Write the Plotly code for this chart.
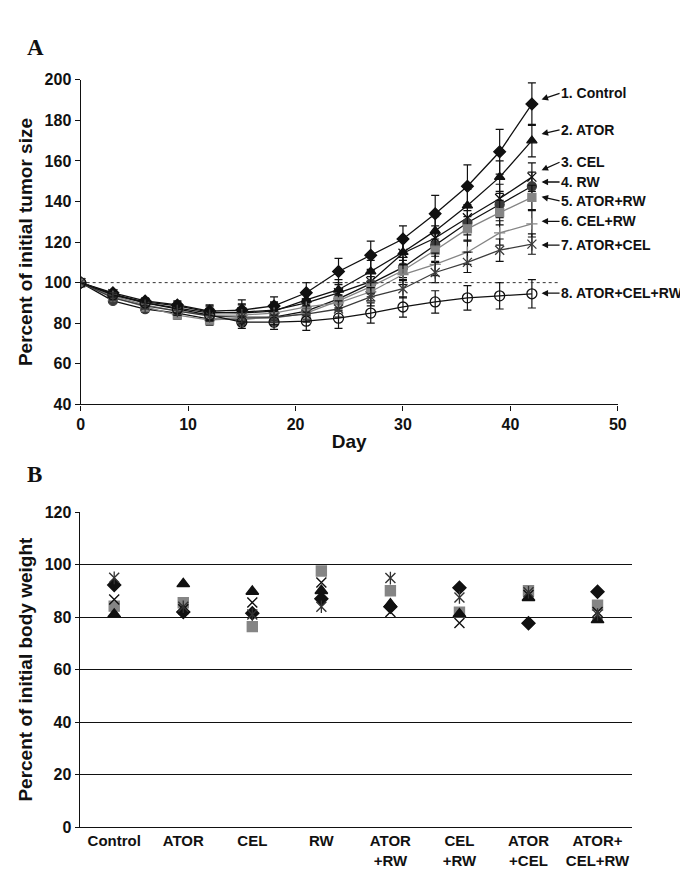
import plotly.graph_objects as go

# ---------------- Panel A data ----------------
days = [0, 3, 6, 9, 12, 15, 18, 21, 24, 27, 30, 33, 36, 39, 42]

control = [100, 95, 91, 89, 86, 86.5, 88.5, 95, 105.5, 113.5, 121.5, 134, 147.5, 164.5, 188]
ator = [100, 94, 90.5, 88.5, 85.5, 85, 86, 91.5, 96.5, 105.5, 115, 125.5, 138, 152, 170]
cel = [100, 94.5, 90, 87.5, 85, 85.5, 86.5, 90, 95, 100.5, 114.5, 122, 132, 141.5, 152]
rw = [100, 91, 87, 85, 82, 82, 83, 86, 92, 99.5, 107.5, 118.5, 129.5, 138.5, 147.5]
ator_rw = [100, 93, 88, 84, 81.5, 82.5, 82.5, 85, 91, 98, 106, 116, 126.5, 134.5, 142]
cel_rw = [100, 93.5, 89, 86, 84, 84, 85, 88, 90, 95.5, 104, 109, 115, 124.5, 129]
ator_cel = [100, 92.5, 88.5, 86, 83.5, 83, 83, 84.5, 87, 93, 97, 105, 110, 116, 119]
ator_cel_rw = [100, 94, 90, 87, 84, 80.5, 80.5, 81, 82.5, 85, 88, 90.5, 92.5, 93.5, 94.5]

err_control = [0, 1, 1.5, 2, 3, 5, 4.5, 5, 6.5, 7, 6.5, 9, 10.5, 11, 10.5]
err_ator = [0, 1, 1.5, 2, 3, 4, 4, 4.5, 5, 5.5, 6, 7, 8, 8, 8]
err_cel = [0, 1, 1.5, 2, 3, 4, 4, 4.5, 5, 5.5, 6, 6, 6.5, 7, 7]
err_rw = [0, 1, 1.5, 2, 2.5, 3, 3.5, 4, 4.5, 5, 5, 5.5, 6, 6.5, 7]
err_ator_rw = [0, 1, 1.5, 2, 2.5, 3, 3.5, 4, 4.5, 5, 5, 5.5, 6, 6, 6]
err_cel_rw = [0, 1, 1.5, 2, 2.5, 3, 3.5, 4, 4, 4.5, 5, 5.5, 6, 6, 6.5]
err_ator_cel = [0, 1, 1.5, 2, 2.5, 3, 3.5, 4, 4, 4.5, 4.5, 5, 5, 5.5, 5]
err_ator_cel_rw = [0, 1, 1.5, 2, 2.5, 3, 3.5, 4.5, 5, 5, 5, 5.5, 6, 6.5, 7]

labels_a = ["1. Control", "2. ATOR", "3. CEL", "4. RW", "5. ATOR+RW",
            "6. CEL+RW", "7. ATOR+CEL", "8. ATOR+CEL+RW"]
label_head_y = [190.3, 173.3, 155.4, 149.6, 142.3, 130.2, 118.5, 94.8]
label_dy = [-6, -4, -8, 0, 4, 0, 0, 0]

baseline = 100

# ---------------- Panel B data ----------------
groups = ["Control", "ATOR", "CEL", "RW", "ATOR<br>+RW", "CEL<br>+RW",
          "ATOR<br>+CEL", "ATOR+<br>CEL+RW"]
bw_diamond = [92.3, 82, 81.5, 87, 84, 91.2, 77.7, 89.7]
bw_triangle = [81.1, 92.7, 89.8, 90.1, 85, 81.2, 87.4, 79]
bw_square = [84.2, 85.5, 76.4, 97.6, 90.1, 81.9, 90.1, 84.6]
bw_cross = [86.7, 83, 85.6, 93.2, 82, 77.8, 88.5, 82]
bw_star = [95, 84, 81, 84, 94.9, 87.5, 89.5, 81]

FONT = "Liberation Sans, Arial, sans-serif"
BLACK = "#111111"
GRAY = "#858585"
DGRAY = "#3c3c3c"

fig = go.Figure()

series_a = [
    (control, err_control, "diamond", BLACK, BLACK, 9, BLACK),
    (ator, err_ator, "triangle-up", BLACK, BLACK, 9, BLACK),
    (cel, err_cel, "x-thin-open", BLACK, BLACK, 9, BLACK),
    (rw, err_rw, "circle", DGRAY, BLACK, 9, BLACK),
    (ator_rw, err_ator_rw, "square", GRAY, GRAY, 8, BLACK),
    (cel_rw, err_cel_rw, "cross-thin-open", GRAY, GRAY, 8, BLACK),
    (ator_cel, err_ator_cel, "x-thin-open", DGRAY, DGRAY, 9, BLACK),
    (ator_cel_rw, err_ator_cel_rw, "circle-open", BLACK, BLACK, 10, BLACK),
]
for vals, errs, sym, mcol, lcol, msize, ecol in series_a:
    fig.add_trace(go.Scatter(
        x=days, y=vals, mode="lines+markers", xaxis="x", yaxis="y",
        line=dict(color=lcol, width=1.3),
        marker=dict(symbol=sym, size=msize, color=mcol,
                    line=dict(color=mcol, width=1.3)),
        error_y=dict(type="data", array=errs, visible=True, color=ecol,
                     thickness=1.2, width=4),
        showlegend=False))
# vertical stroke completing the asterisk marker of ATOR+CEL
fig.add_trace(go.Scatter(
    x=days, y=ator_cel, mode="markers", xaxis="x", yaxis="y",
    marker=dict(symbol="line-ns-open", size=9, color=DGRAY,
                line=dict(color=DGRAY, width=1.3)),
    showlegend=False))

# Panel B
series_b = [
    (bw_square, "square", GRAY, 10),
    (bw_triangle, "triangle-up", BLACK, 11),
    (bw_diamond, "diamond", BLACK, 10),
    (bw_cross, "x-thin-open", BLACK, 10),
    (bw_star, "x-thin-open", "#333333", 10),
]
for vals, sym, col, sz in series_b:
    fig.add_trace(go.Scatter(
        x=groups, y=vals, mode="markers", xaxis="x2", yaxis="y2",
        marker=dict(symbol=sym, size=sz, color=col, line=dict(color=col, width=1.4)),
        showlegend=False))
fig.add_trace(go.Scatter(
    x=groups, y=bw_star, mode="markers", xaxis="x2", yaxis="y2",
    marker=dict(symbol="line-ns-open", size=9, color="#333333",
                line=dict(color="#333333", width=1.3)),
    showlegend=False))

W, H = 688, 882

fig.update_layout(
    width=W, height=H,
    margin=dict(l=0, r=0, t=0, b=0),
    paper_bgcolor="white", plot_bgcolor="white",
    font=dict(family=FONT, color=BLACK),
    xaxis=dict(domain=[70 / W, 617.5 / W], range=[0, 50], dtick=10,
               showline=True, linecolor=BLACK, linewidth=1.3,
               ticks="outside", ticklen=5, tickcolor=BLACK, tickwidth=1.2,
               showgrid=False, zeroline=False, anchor="y",
               tickfont=dict(family=FONT, size=16, color=BLACK, weight="bold"),
               title=dict(text="<b>Day</b>", font=dict(family=FONT, size=19, color=BLACK),
                          standoff=2)),
    yaxis=dict(domain=[1 - 396 / H, 1 - 65 / H], range=[40, 200], dtick=20,
               showline=True, linecolor=BLACK, linewidth=1.3,
               ticks="outside", ticklen=5, tickcolor=BLACK, tickwidth=1.2,
               showgrid=False, zeroline=False, anchor="x",
               tickfont=dict(family=FONT, size=16, color=BLACK, weight="bold"),
               title=dict(text="<b>Percent of initial tumor size</b>",
                          font=dict(family=FONT, size=19, color=BLACK), standoff=6)),
    xaxis2=dict(domain=[69 / W, 632 / W], range=[-0.5, 7.5], type="category",
                showline=True, linecolor=BLACK, linewidth=1.3,
                ticks="", showgrid=False, zeroline=False, anchor="y2",
                tickfont=dict(family=FONT, size=15, color=BLACK, weight="bold")),
    yaxis2=dict(domain=[1 - 827 / H, 1 - 506 / H], range=[0, 120], dtick=20,
                showline=True, linecolor=BLACK, linewidth=1.3,
                ticks="outside", ticklen=4, tickcolor=BLACK, tickwidth=1.2,
                showgrid=True, gridcolor=BLACK, gridwidth=1.2, zeroline=False,
                anchor="x2",
                tickfont=dict(family=FONT, size=16, color=BLACK, weight="bold"),
                title=dict(text="<b>Percent of initial body weight</b>",
                           font=dict(family=FONT, size=19, color=BLACK), standoff=6)),
)

# reference line at 100 %
fig.add_shape(type="line", xref="x", yref="y", x0=0, x1=44.5, y0=baseline, y1=baseline,
              line=dict(color="#333333", width=1, dash="dot"))

# arrow labels
for txt, hy, dy in zip(labels_a, label_head_y, label_dy):
    fig.add_annotation(x=42.9, y=hy, xref="x", yref="y", text="<b>" + txt + "</b>",
                       showarrow=True, arrowhead=2, arrowsize=1, arrowwidth=1.3,
                       arrowcolor=BLACK, ax=18, ay=dy, axref="pixel", ayref="pixel",
                       xanchor="left", yanchor="middle", borderpad=0,
                       font=dict(family=FONT, size=14, color=BLACK))

# panel letters
fig.add_annotation(x=13 / W, y=1 - 32 / H, xref="paper", yref="paper", text="<b>A</b>",
                   showarrow=False, xanchor="left", yanchor="middle",
                   font=dict(family="Liberation Serif, Times New Roman, serif", size=23, color=BLACK))
fig.add_annotation(x=13 / W, y=1 - 468 / H, xref="paper", yref="paper", text="<b>B</b>",
                   showarrow=False, xanchor="left", yanchor="middle",
                   font=dict(family="Liberation Serif, Times New Roman, serif", size=23, color=BLACK))

fig.write_html("out.html")
